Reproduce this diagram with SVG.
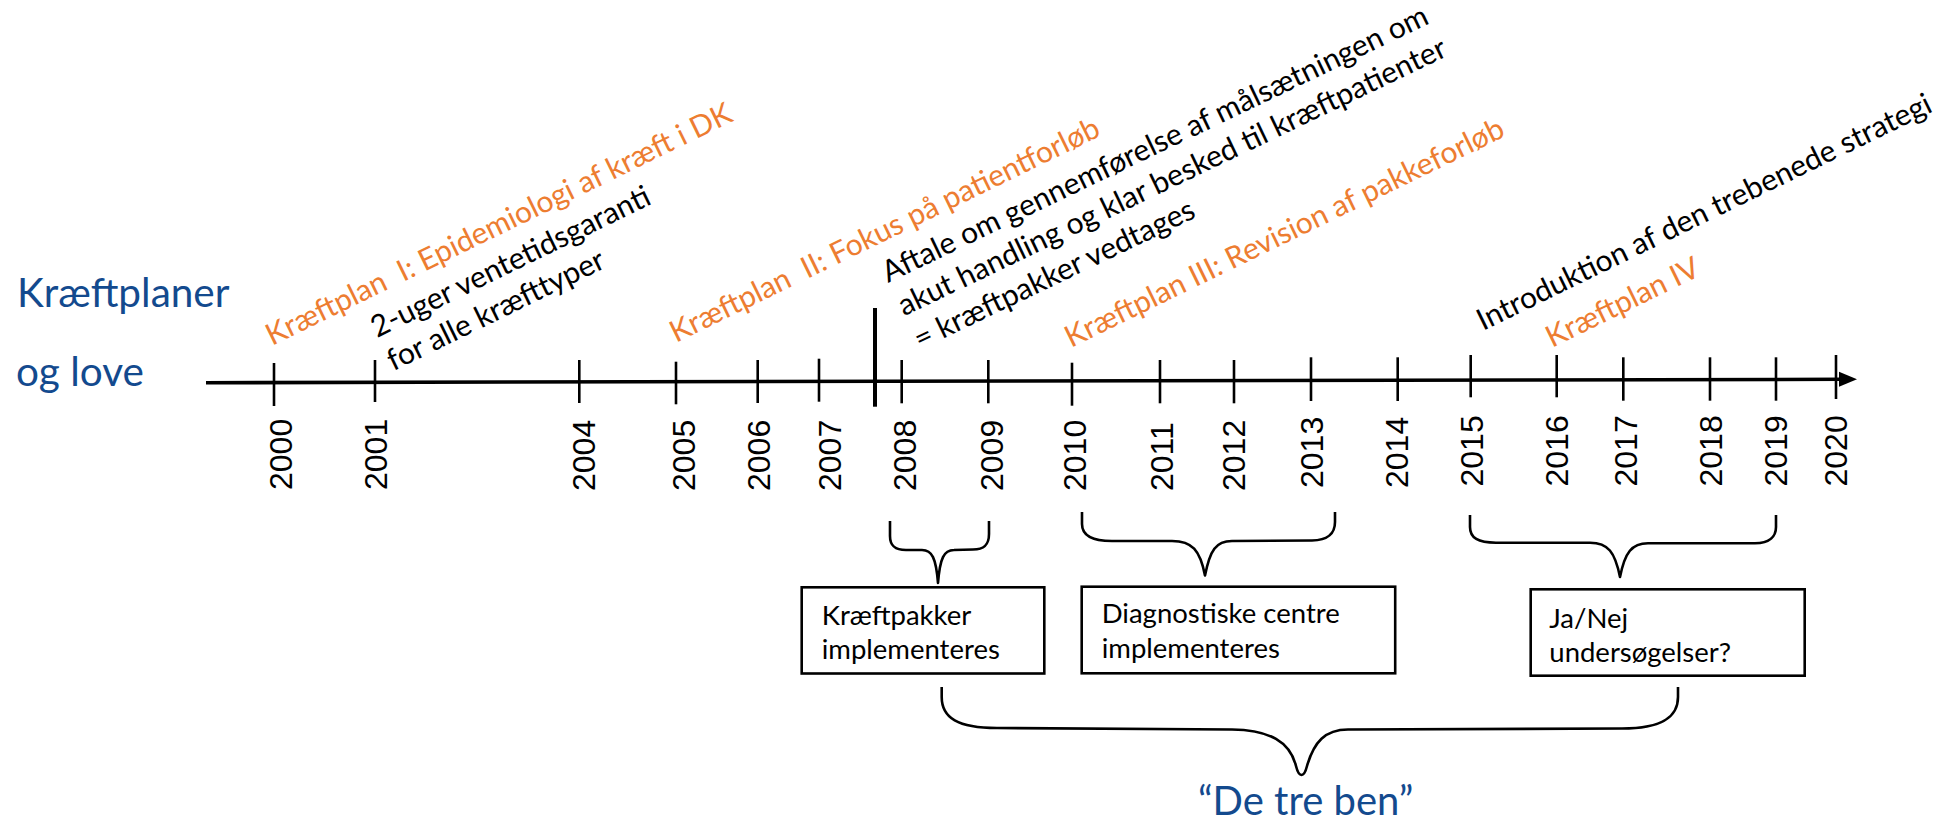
<svg xmlns="http://www.w3.org/2000/svg" width="1954" height="822" viewBox="0 0 1954 822">
<style>
.ann{font-family:Lato,"Liberation Sans",sans-serif;font-size:30px}
.or{fill:#ED7D31}
.bk{fill:#000}
.yr{font-family:"Liberation Sans",Arial,sans-serif;font-size:32px;fill:#000}
.tick{stroke:#000;stroke-width:2.6}
.brace{fill:none;stroke:#000;stroke-width:2.6;stroke-linejoin:round}
.box{fill:#fff;stroke:#000;stroke-width:2.6}
.boxt{font-family:Lato,"Liberation Sans",sans-serif;font-size:27.5px;fill:#000}
.title{font-family:Lato,"Liberation Sans",sans-serif;font-size:40.5px;fill:#134A8E}
</style>
<rect width="1954" height="822" fill="#fff"/>

<g id="title">
<text class="title" x="17" y="307">Kræftplaner</text>
<text class="title" x="16" y="386">og love</text>
</g>

<g id="axis">
<line x1="206" y1="382.7" x2="1842" y2="379.3" stroke="#000" stroke-width="3.6"/>
<polygon points="1857,379.3 1839,371.8 1839,386.8" fill="#000"/>
<g class="tick">
<line x1="274" y1="363" x2="274" y2="406"/>
<line x1="375" y1="360" x2="375" y2="402"/>
<line x1="579.3" y1="360" x2="579.3" y2="403"/>
<line x1="676" y1="361.7" x2="676" y2="404.3"/>
<line x1="757.7" y1="360" x2="757.7" y2="403"/>
<line x1="819" y1="358.7" x2="819" y2="401.7"/>
<line x1="901.7" y1="360" x2="901.7" y2="403.3"/>
<line x1="988.3" y1="360" x2="988.3" y2="403.3"/>
<line x1="1072" y1="362.7" x2="1072" y2="405.7"/>
<line x1="1160" y1="360" x2="1160" y2="403.3"/>
<line x1="1234" y1="360" x2="1234" y2="403.3"/>
<line x1="1311" y1="357.3" x2="1311" y2="401"/>
<line x1="1397.7" y1="357.3" x2="1397.7" y2="401"/>
<line x1="1470.7" y1="355" x2="1470.7" y2="397.3"/>
<line x1="1556.7" y1="355" x2="1556.7" y2="397.3"/>
<line x1="1623.3" y1="357.3" x2="1623.3" y2="400.7"/>
<line x1="1710" y1="357.3" x2="1710" y2="400.7"/>
<line x1="1776" y1="357.3" x2="1776" y2="400.7"/>
<line x1="1836" y1="355" x2="1836" y2="399"/>
</g>
<line id="divider" x1="875" y1="308" x2="875" y2="406.7" stroke="#000" stroke-width="4"/>
</g>

<g id="years">
<text class="yr" transform="translate(291.7,490) rotate(-90)">2000</text>
<text class="yr" transform="translate(386.7,490) rotate(-90)">2001</text>
<text class="yr" transform="translate(595,491) rotate(-90)">2004</text>
<text class="yr" transform="translate(695,491) rotate(-90)">2005</text>
<text class="yr" transform="translate(770,491) rotate(-90)">2006</text>
<text class="yr" transform="translate(840.7,491) rotate(-90)">2007</text>
<text class="yr" transform="translate(916,491) rotate(-90)">2008</text>
<text class="yr" transform="translate(1003.3,491) rotate(-90)">2009</text>
<text class="yr" transform="translate(1086,491) rotate(-90)">2010</text>
<text class="yr" transform="translate(1173.3,491) rotate(-90)">2011</text>
<text class="yr" transform="translate(1245,491) rotate(-90)">2012</text>
<text class="yr" transform="translate(1323.3,488) rotate(-90)">2013</text>
<text class="yr" transform="translate(1408.3,488) rotate(-90)">2014</text>
<text class="yr" transform="translate(1483.3,486.5) rotate(-90)">2015</text>
<text class="yr" transform="translate(1568.3,486.5) rotate(-90)">2016</text>
<text class="yr" transform="translate(1636.7,486.5) rotate(-90)">2017</text>
<text class="yr" transform="translate(1721.7,486.5) rotate(-90)">2018</text>
<text class="yr" transform="translate(1786.7,486.5) rotate(-90)">2019</text>
<text class="yr" transform="translate(1847.3,486.5) rotate(-90)">2020</text>
</g>

<g id="plan1" transform="translate(272,346) rotate(-26)">
<text class="ann or" xml:space="preserve">Kræftplan  I: Epidemiologi af kræft i DK</text>
</g>
<g id="garanti" transform="translate(377,338) rotate(-26)">
<text class="ann bk">2-uger ventetidsgaranti</text>
<text class="ann bk" y="37">for alle kræfttyper</text>
</g>
<g id="plan2" transform="translate(676,343) rotate(-26)">
<text class="ann or" xml:space="preserve">Kræftplan  II: Fokus på patientforløb</text>
</g>
<g id="aftale" transform="translate(888,283) rotate(-25.6)">
<text class="ann bk">Aftale om gennemførelse af målsætningen om</text>
<text class="ann bk" y="37">akut handling og klar besked til kræftpatienter</text>
<text class="ann bk" y="74">= kræftpakker vedtages</text>
</g>
<g id="plan3" transform="translate(1071,348) rotate(-26)">
<text class="ann or">Kræftplan III: Revision af pakkeforløb</text>
</g>
<g id="intro" transform="translate(1483,331) rotate(-26)">
<text class="ann bk">Introduktion af den trebenede strategi</text>
</g>
<g id="plan4" transform="translate(1552,348) rotate(-26)">
<text class="ann or">Kræftplan IV</text>
</g>

<g id="connectors">
<path class="brace" d="M890,521 L890,536 C890,546 895,550 906,550 L922,550 C932,550 936,558 938,583 C940,558 944,550 954,550 L973,549.5 C984,549.5 989,545 989,534 L989,521"/>
<path class="brace" d="M1082,512 L1082,524 C1082,536 1092,541 1112,541 L1172,541 C1192,541 1200,550 1205,575.5 C1210,550 1216,541 1232,541 L1312,540.5 C1328,540.5 1335,533 1335,522 L1335,512"/>
<path class="brace" d="M1470,515 L1470,527 C1470,538 1478,542.7 1496,542.7 L1590,542.7 C1608,542.7 1615,552 1620,577 C1625,552 1632,543.2 1648,543.2 L1755,543.2 C1770,543.2 1776,536 1776,527 L1776,515"/>
<path class="brace" d="M941.7,687 L941.7,697 C941.7,718 958,728 997,728 L1232,729.5 C1270,730 1290,742 1296,766 C1299,778 1304,778 1307,766 C1314,742 1325,729.5 1348,729.5 L1622,728.5 C1664,728.5 1678,716 1678,697 L1678,687"/>
</g>

<g id="box1">
<rect class="box" x="801.7" y="587.3" width="242.6" height="86.2"/>
<text class="boxt" x="821.7" y="625">Kræftpakker</text>
<text class="boxt" x="821.7" y="659">implementeres</text>
</g>
<g id="box2">
<rect class="box" x="1081.7" y="586.7" width="313.5" height="86.6"/>
<text class="boxt" x="1101.7" y="622.7">Diagnostiske centre</text>
<text class="boxt" x="1101.7" y="658">implementeres</text>
</g>
<g id="box3">
<rect class="box" x="1530.7" y="589.3" width="274" height="86.4"/>
<text class="boxt" x="1549.3" y="628.3">Ja/Nej</text>
<text class="boxt" x="1549.3" y="662.3">undersøgelser?</text>
</g>

<g id="legs">
<text x="1198" y="815" style="font-family:Lato,'Liberation Sans',sans-serif;font-size:40px;fill:#134A8E">“De tre ben”</text>
</g>
</svg>
